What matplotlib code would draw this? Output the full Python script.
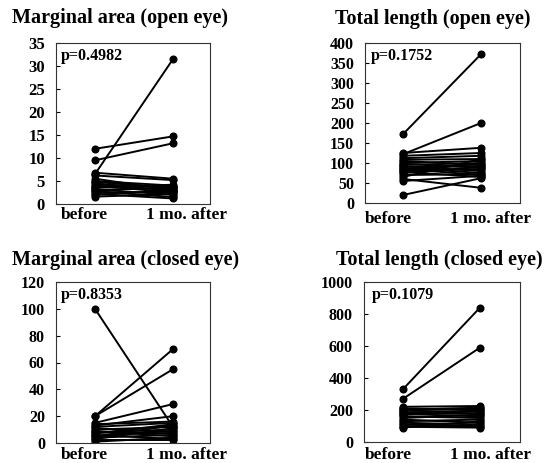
import matplotlib
matplotlib.use("Agg")
import matplotlib.pyplot as plt
from matplotlib.ticker import MultipleLocator

plt.rcParams['font.family'] = ['Liberation Serif', 'DejaVu Serif']
plt.rcParams['font.weight'] = 'bold'

W, H = 547, 463

# ---- data ----
titles = ["Marginal area (open eye)", "Total length (open eye)",
          "Marginal area (closed eye)", "Total length (closed eye)"]
pvals = ["p=0.4982", "p=0.1752", "p=0.8353", "p=0.1079"]
xlabels = ["before", "1 mo. after"]

ma_open_before = [6.5, 12, 9.5, 6.8, 6.2, 5.5, 5.0, 4.8, 4.5, 4.2, 4.0, 3.8, 3.5, 3.2, 3.0, 2.8, 2.5, 2.2, 2.0, 1.6]
ma_open_after = [31.5, 14.7, 13.2, 5.5, 5.2, 3.0, 4.0, 3.5, 2.8, 3.8, 2.5, 3.2, 4.2, 2.0, 3.6, 1.5, 2.6, 1.2, 3.0, 2.2]

tl_open_before = [172, 122, 20, 125, 118, 112, 108, 105, 100, 98, 95, 92, 90, 88, 85, 82, 80, 78, 75, 70, 65, 60, 55]
tl_open_after = [372, 200, 62, 138, 125, 118, 110, 95, 105, 88, 100, 80, 92, 75, 70, 98, 85, 65, 90, 72, 110, 38, 68]

ma_closed_before = [100, 20, 20, 15, 13, 12, 11, 10, 9, 8, 7, 6, 5, 4, 3, 2, 1, 14, 8, 5]
ma_closed_after = [12, 70, 55, 29, 20, 15, 8, 12, 5, 10, 14, 3, 9, 6, 11, 2, 4, 16, 7, 13]

tl_closed_before = [330, 270, 220, 210, 200, 195, 185, 175, 170, 160, 150, 140, 130, 120, 110, 100, 95, 90, 180, 205]
tl_closed_after = [840, 590, 225, 200, 215, 190, 180, 160, 200, 150, 170, 120, 140, 110, 100, 95, 90, 130, 175, 210]

ylims = [35, 400, 120, 1000]
ysteps = [5, 50, 20, 200]

series = [(ma_open_before, ma_open_after), (tl_open_before, tl_open_after),
          (ma_closed_before, ma_closed_after), (tl_closed_before, tl_closed_after)]

# ---- layout in pixels: left, right, top, bottom, before_x, after_x ----
boxes = [(56, 210, 43, 204, 95, 173),
         (365, 520, 43, 203, 403, 481),
         (56, 210, 282, 443, 95, 173),
         (364, 520, 282, 442, 403, 480)]
title_pos = [(12, 18), (335, 19), (12, 260), (336, 260)]
p_pos = [(61, 56), (371, 56), (61, 295), (372, 295)]
xl_pos = [((84, 186), 215), ((388, 490), 219), ((84, 186), 455), ((388, 490), 455)]

fig = plt.figure(figsize=(W / 100, H / 100), dpi=100)

for i in range(4):
    l, r, t, b, bx, axx = boxes[i]
    ax = fig.add_axes([l / W, 1 - b / H, (r - l) / W, (b - t) / H])
    before, after = series[i]
    for yb, ya in zip(before, after):
        ax.plot([0, 1], [yb, ya], color='black', lw=1.4, marker='o', ms=4.8,
                mfc='black', mec='black')
    s = axx - bx
    ax.set_xlim(-(bx - l) / s, 1 + (r - axx) / s)
    ax.set_ylim(0, ylims[i])
    ax.yaxis.set_major_locator(MultipleLocator(ysteps[i]))
    ax.set_xticks([])
    ax.tick_params(axis='y', direction='in', length=3, width=0.8,
                   labelsize=12 if i == 0 else 11.5, pad=8)
    for lab in ax.get_yticklabels():
        lab.set_fontweight('bold')
    for sp in ax.spines.values():
        sp.set_linewidth(0.8)
        sp.set_color('#333333')
    ax.text((p_pos[i][0] - l) / (r - l), 1 - (p_pos[i][1] - t) / (b - t),
            pvals[i], transform=ax.transAxes, fontsize=11.5, fontweight='bold',
            ha='left', va='center')
    fig.text(title_pos[i][0] / W, 1 - title_pos[i][1] / H, titles[i],
             fontsize=14.5, fontweight='bold', ha='left', va='center')
    xs, yv = xl_pos[i]
    for xv, lab in zip(xs, xlabels):
        fig.text(xv / W, 1 - yv / H, lab, fontsize=12.5, fontweight='bold',
                 ha='center', va='center')

fig.savefig("out.png", dpi=100)
